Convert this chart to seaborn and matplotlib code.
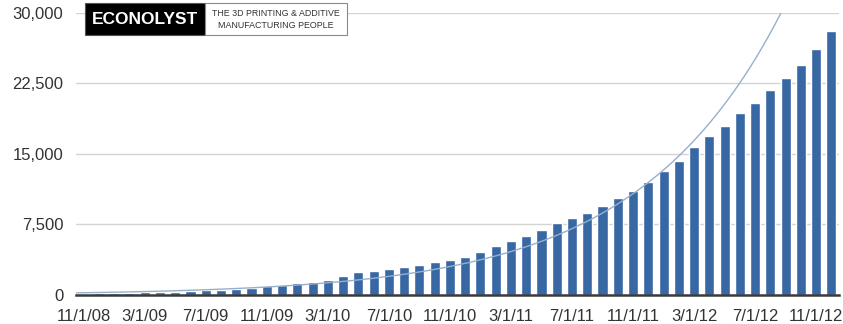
import numpy as np
import pandas as pd
import matplotlib
matplotlib.use("Agg")
import matplotlib.pyplot as plt
import seaborn as sns
from matplotlib.patches import Rectangle

# Monthly totals, Nov 2008 .. Dec 2012
months = pd.date_range("2008-11-01", "2012-12-01", freq="MS")
values = [150, 180, 200, 230, 270, 310, 360, 420, 480, 560,
          660, 779, 956, 1063, 1270, 1430, 1610, 2040, 2430, 2586,
          2763, 2975, 3200, 3507, 3740, 4073, 4534, 5171, 5773, 6305,
          6942, 7615, 8147, 8749, 9457, 10343, 11086, 12043, 13176, 14239,
          15762, 16895, 17958, 19304, 20437, 21783, 23094, 24440, 26105, 28088]
tick_every = 4
y_ticks = [0, 7500, 15000, 22500, 30000]
logo_main = "ECONOLYST"
logo_sub = ["THE 3D PRINTING & ADDITIVE", "MANUFACTURING PEOPLE"]

labels = [f"{d.month}/1/{d.strftime('%y')}" for d in months]
df = pd.DataFrame({"month": labels, "value": values})

sns.set_theme(style="white")
plt.rcParams["font.family"] = ["Liberation Sans", "DejaVu Sans"]

fig = plt.figure(figsize=(8.43, 3.24), dpi=100)
ax = fig.add_axes([0.0902, 0.0895, 0.9051, 0.8713])

sns.barplot(data=df, x="month", y="value", color="#3868a3", saturation=1,
            width=0.66, ax=ax, zorder=2)

# exponential trendline fitted to the bars
idx = np.arange(len(values))
k, b = np.polyfit(idx, np.log(values), 1)
xs = np.linspace(-0.5, len(values) - 0.5, 300)
ax.plot(xs, np.exp(b + k * xs), color="#98afcb", lw=1.0, zorder=3)

ax.set_xlim(-0.5, len(values) - 0.5)
ax.set_ylim(0, 30000)
ax.set_yticks(y_ticks)
ax.set_yticklabels([f"{v:,}" for v in y_ticks])
ax.set_xticks(idx[::tick_every])
ax.set_xticklabels(labels[::tick_every])
ax.set_xlabel("")
ax.set_ylabel("")
ax.tick_params(axis="y", length=0, pad=9, labelsize=12, labelcolor="#333333")
ax.tick_params(axis="x", length=0, pad=10, labelsize=12, labelcolor="#333333")
ax.yaxis.grid(True, color="#d4d4d4", lw=1)
ax.set_axisbelow(True)
for s in ["top", "right", "left"]:
    ax.spines[s].set_visible(False)
ax.spines["bottom"].set_color("#3a3a3a")
ax.spines["bottom"].set_linewidth(1.8)
ax.spines["bottom"].set_zorder(4)

# logo
W, H = 843, 324
fig.patches.append(Rectangle((85 / W, 1 - 35 / H), 120 / W, 32 / H,
                             transform=fig.transFigure, facecolor="black",
                             edgecolor="#555555", lw=0.8, zorder=5))
fig.patches.append(Rectangle((205 / W, 1 - 35 / H), 142 / W, 32 / H,
                             transform=fig.transFigure, facecolor="white",
                             edgecolor="#8a8a8a", lw=0.8, zorder=5))
fig.text(145 / W, 1 - 19.5 / H, logo_main, color="white", fontsize=12.5,
         fontweight="bold", ha="center", va="center", zorder=6)
fig.text(276 / W, 1 - 13.5 / H, logo_sub[0], color="#333333", fontsize=6.4,
         ha="center", va="center", zorder=6)
fig.text(276 / W, 1 - 25 / H, logo_sub[1], color="#333333", fontsize=6.4,
         ha="center", va="center", zorder=6)

fig.savefig("out.png", dpi=100)
